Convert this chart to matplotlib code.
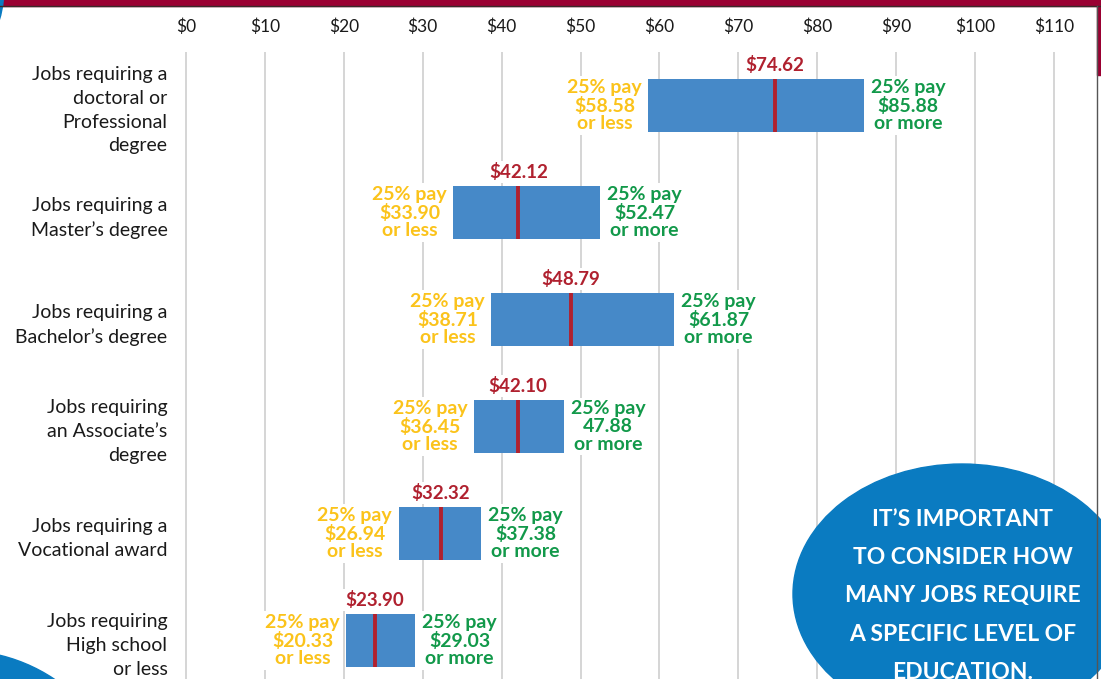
import matplotlib
matplotlib.use('Agg')
from matplotlib import pyplot as plt
from matplotlib.patches import Ellipse, Circle, Rectangle

# hourly pay by education level (25th percentile, median, 75th percentile)
categories = [
    "Jobs requiring a\ndoctoral or\nProfessional\ndegree",
    "Jobs requiring a\nMaster\u2019s degree",
    "Jobs requiring a\nBachelor\u2019s degree",
    "Jobs requiring\nan Associate\u2019s\ndegree",
    "Jobs requiring a\nVocational award",
    "Jobs requiring\nHigh school\nor less",
]
low = [58.58, 33.90, 38.71, 36.45, 26.94, 20.33]
median = [74.62, 42.12, 48.79, 42.10, 32.32, 23.90]
high = [85.88, 52.47, 61.87, 47.88, 37.38, 29.03]
high_text = ["$85.88", "$52.47", "$61.87", "47.88", "$37.38", "$29.03"]
ticks = list(range(0, 120, 10))
callout = ["IT\u2019S IMPORTANT", "TO CONSIDER HOW", "MANY JOBS REQUIRE",
           "A SPECIFIC LEVEL OF", "EDUCATION."]

BOX = '#4689C8'
RED = '#B0212F'
YELLOW = '#FBC31B'
GREEN = '#12994A'
BLUE = '#0A7BC1'
MAROON = '#9A0032'

plt.rcParams['font.family'] = ['Lato', 'DejaVu Sans']

W, H = 1101, 679
PX = 7.89  # pixels per dollar
fig = plt.figure(figsize=(W / 100, H / 100), dpi=100)

ax = fig.add_axes([180 / W, 0, (W - 180) / W, (H - 52) / H])
ax.set_xlim((180 - 186) / PX, (W - 186) / PX)
ax.set_ylim((H - 105.5) / 107, -0.5)
for s in ax.spines.values():
    s.set_visible(False)

ax.xaxis.tick_top()
ax.set_xticks(ticks, [f"${t}" for t in ticks])
ax.tick_params(axis='x', length=0, pad=12.5, labelsize=12.5, labelcolor='#1a1a1a')
ax.set_yticks(range(len(categories)), categories)
ax.tick_params(axis='y', length=0, pad=9, labelsize=14, labelcolor='#1a1a1a')
for lbl in ax.get_yticklabels():
    lbl.set_linespacing(1.48)
ax.grid(axis='x', color='#d2d2d2', linewidth=1.3)
ax.set_axisbelow(True)

bh = 0.495
rows = range(len(categories))
ax.barh(rows, [h - l for l, h in zip(low, high)], left=low, height=bh, color=BOX, zorder=2)
ax.vlines(median, [r - bh / 2 for r in rows], [r + bh / 2 for r in rows], color=RED, linewidth=2.8, zorder=3)

wb = dict(facecolor='white', edgecolor='none', pad=1.5)
for r in rows:
    ax.annotate(f"${median[r]:.2f}", (median[r], r - bh / 2), xytext=(0, 6), textcoords='offset points',
                ha='center', va='baseline', color=RED, fontsize=13.5, fontweight='bold', bbox=wb, zorder=4)
    ax.annotate(f"25% pay\n${low[r]:.2f}\nor less", (low[r], r), xytext=(-31.5, 0), textcoords='offset points',
                ha='center', va='center', color=YELLOW, fontsize=14, fontweight='bold',
                linespacing=1.06, bbox=wb, zorder=4)
    ax.annotate(f"25% pay\n{high_text[r]}\nor more", (high[r], r), xytext=(32, 0), textcoords='offset points',
                ha='center', va='center', color=GREEN, fontsize=14, fontweight='bold',
                linespacing=1.06, bbox=wb, zorder=4)

# decorative layer in pixel units
deco = fig.add_axes([0, 0, 1, 1], zorder=5)
deco.set_xlim(0, W)
deco.set_ylim(H, 0)
deco.axis('off')
deco.patch.set_alpha(0)
deco.add_patch(Rectangle((0, 0), W, 5.5, color=MAROON))
deco.plot([0, W], [6, 6], color='#3a2a2a', linewidth=1)
deco.add_patch(Rectangle((1096.5, 0), 5, 75, color=MAROON))
deco.plot([1096.5, 1096.5], [6, H], color='#555555', linewidth=1)
deco.add_patch(Circle((-100, -10), 103.8, color=BLUE))
deco.add_patch(Circle((-40, 820), 169.5, color=BLUE))
deco.add_patch(Ellipse((962, 594), 338, 260, color=BLUE))
for i, line in enumerate(callout):
    deco.text(963, 526 + 38.2 * i, line, ha='center', va='baseline', color='white',
              fontsize=16.5, fontweight='bold')

plt.savefig("out.png")
plt.close()
